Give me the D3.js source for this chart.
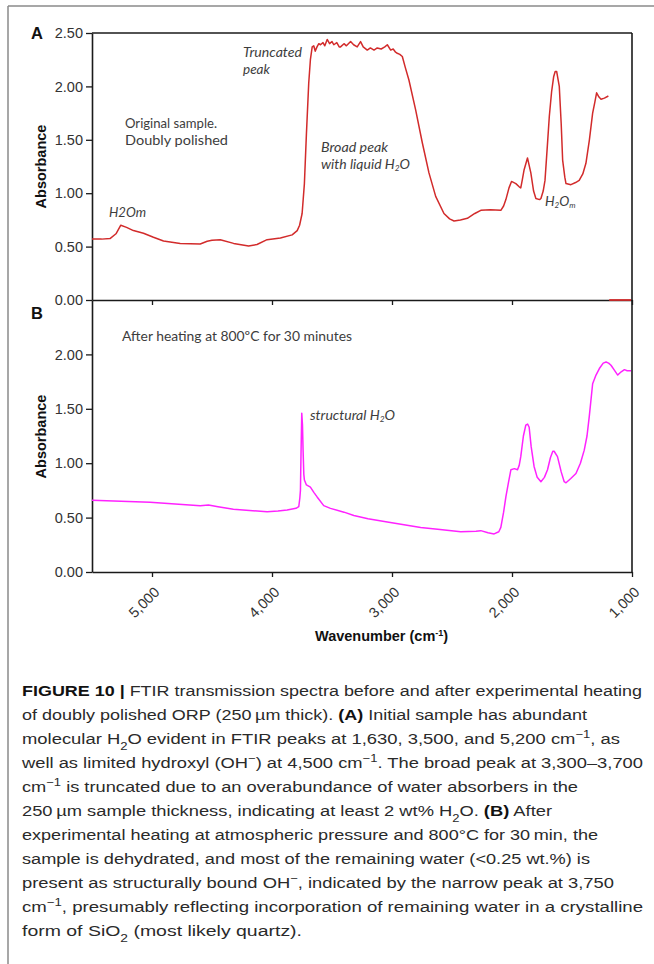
<!DOCTYPE html>
<html>
<head>
<meta charset="utf-8">
<script src="https://cdn.jsdelivr.net/npm/d3@7"></script>
<style>
  html, body { margin: 0; padding: 0; background: #fff; }
  svg { display: block; }
</style>
</head>
<body>
<svg id="chart" width="654" height="964"></svg>
<script>
// ---------- DATA ----------
const wavenumberTicks = [5000, 4000, 3000, 2000, 1000];
const absorbanceTicksA = [0, 0.5, 1.0, 1.5, 2.0, 2.5];
const absorbanceTicksB = [0, 0.5, 1.0, 1.5, 2.0];

// Panel A: original sample (red)
const waveA = [5500,5420,5350,5300,5260,5212,5155,5071,4988,4904,4765,4598,4540,4500,4431,4320,4195,4125,4041,3930,
  3832,3790,3770,3749,3730,3713,3694,3680,3665,3652,3640,3625,3610,3596,3575,3560,3540,3520,3500,3485,
  3460,3440,3429,3400,3380,3345,3320,3290,3262,3240,3206,3180,3150,3123,3090,3060,3039,3011,2990,2970,
  2956,2935,2914,2890,2859,2803,2747,2692,2636,2567,2520,2483,2430,2372,2310,2260,2180,2093,2070,2051,
  2025,2004,1968,1940,1927,1915,1899,1871,1843,1820,1801,1770,1759,1740,1725,1705,1689,1670,1653,1640,
  1628,1606,1590,1578,1560,1550,1509,1470,1440,1410,1384,1355,1328,1310,1295,1275,1258,1230,1197];
const absA = [0.57,0.57,0.575,0.62,0.70,0.68,0.65,0.625,0.587,0.553,0.53,0.525,0.55,0.56,0.565,0.53,0.506,0.52,0.565,0.58,
  0.61,0.65,0.70,0.81,1.09,1.56,2.03,2.25,2.37,2.38,2.33,2.37,2.40,2.39,2.41,2.38,2.44,2.40,2.42,2.39,
  2.41,2.37,2.37,2.40,2.38,2.42,2.39,2.37,2.42,2.37,2.34,2.36,2.34,2.36,2.35,2.37,2.39,2.34,2.35,2.32,
  2.31,2.30,2.28,2.18,2.06,1.78,1.47,1.19,0.97,0.81,0.76,0.74,0.75,0.765,0.81,0.84,0.845,0.84,0.88,0.94,
  1.05,1.11,1.09,1.06,1.05,1.12,1.22,1.33,1.19,1.02,0.95,0.94,0.95,1.02,1.12,1.45,1.72,1.95,2.09,2.14,
  2.14,2.00,1.65,1.31,1.15,1.09,1.08,1.10,1.12,1.18,1.28,1.50,1.75,1.85,1.94,1.90,1.88,1.89,1.91];
// Panel A: short segment lying on the zero line at the low-wavenumber end
const waveATail = [1190, 1008];
const absATail = [0, 0];

// Panel B: after heating at 800 °C (magenta)
const waveB = [5500,5016,4598,4529,4450,4322,4041,3950,3874,3800,3777,3768,3763,3758,3752,3746,3741,3735,3730,3713,
  3680,3650,3624,3569,3513,3400,3318,3200,3039,2900,2761,2600,2427,2300,2260,2200,2149,2110,2093,2070,
  2051,2030,2009,1980,1954,1940,1927,1905,1885,1870,1857,1840,1816,1790,1759,1730,1704,1680,1660,1649,
  1621,1590,1565,1550,1510,1467,1430,1398,1375,1356,1328,1300,1272,1240,1216,1195,1175,1150,1119,1090,
  1063,1040,1008];
const absB = [0.66,0.64,0.61,0.615,0.60,0.577,0.553,0.56,0.57,0.585,0.60,0.68,0.75,1.10,1.46,1.35,1.12,0.90,0.845,0.80,
  0.78,0.73,0.69,0.61,0.585,0.55,0.52,0.49,0.46,0.435,0.41,0.39,0.37,0.375,0.38,0.36,0.35,0.37,0.41,0.55,
  0.69,0.82,0.94,0.95,0.94,0.98,1.06,1.25,1.35,1.36,1.33,1.15,0.97,0.87,0.83,0.87,0.94,1.05,1.11,1.11,
  1.06,0.92,0.83,0.82,0.86,0.905,1.00,1.12,1.25,1.43,1.73,1.81,1.87,1.92,1.93,1.92,1.90,1.86,1.81,1.84,
  1.86,1.85,1.85];

// Caption lines: segments [text, style] ; style: "" normal, "b" bold, "sub", "sup"
const captionLines = [
  [["FIGURE 10 |","b"],[" FTIR transmission spectra before and after experimental heating",""]],
  [["of doubly polished ORP (250\u2009\u00b5m thick). ",""],["(A)","b"],[" Initial sample has abundant",""]],
  [["molecular H",""],["2","sub"],["O evident in FTIR peaks at 1,630, 3,500, and 5,200 cm",""],["\u22121","sup"],[", as",""]],
  [["well as limited hydroxyl (OH",""],["\u2212","sup"],[") at 4,500 cm",""],["\u22121","sup"],[". The broad peak at 3,300\u20133,700",""]],
  [["cm",""],["\u22121","sup"],[" is truncated due to an overabundance of water absorbers in the",""]],
  [["250\u2009\u00b5m sample thickness, indicating at least 2 wt% H",""],["2","sub"],["O. ",""],["(B)","b"],[" After",""]],
  [["experimental heating at atmospheric pressure and 800\u00b0C for 30\u2009min, the",""]],
  [["sample is dehydrated, and most of the remaining water (<0.25 wt.%) is",""]],
  [["present as structurally bound OH",""],["\u2212","sup"],[", indicated by the narrow peak at 3,750",""]],
  [["cm",""],["\u22121","sup"],[", presumably reflecting incorporation of remaining water in a crystalline",""]],
  [["form of SiO",""],["2","sub"],[" (most likely quartz).",""]]
];
const captionLineEnds = [642, 587, 620, 643, 578, 552, 598, 590, 614, 643, 302];

// ---------- CHART ----------
const svg = d3.select("#chart");
const L = 92, R = 632;
const x = d3.scaleLinear().domain([5500, 1000]).range([L, R]);
const yA = d3.scaleLinear().domain([0, 2.5]).range([300, 33]);
const yB = d3.scaleLinear().domain([0, 2.5]).range([572, 300]);

// outer frame (gray)
svg.append("line").attr("x1", 8).attr("y1", 6).attr("x2", 654).attr("y2", 6)
  .attr("stroke", "#8a8a8a").attr("stroke-width", 1.5);
svg.append("line").attr("x1", 8).attr("y1", 6).attr("x2", 8).attr("y2", 964)
  .attr("stroke", "#8a8a8a").attr("stroke-width", 1.5);

const axisColor = "#1a1a1a";
const labelColor = "#333";
const tickFont = "Liberation Sans, Arial, sans-serif";

function styleAxis(g) {
  g.selectAll("path.domain").attr("stroke", axisColor).attr("stroke-width", 1.6);
  g.selectAll(".tick line").attr("stroke", axisColor).attr("stroke-width", 1.3);
  g.selectAll(".tick text").attr("fill", labelColor)
    .style("font-family", tickFont).style("font-size", "14.5px");
}

// Panel frames (top/right borders)
svg.append("line").attr("x1", L).attr("x2", R).attr("y1", yA(2.5)).attr("y2", yA(2.5))
  .attr("stroke", axisColor).attr("stroke-width", 1.6);
svg.append("line").attr("x1", R).attr("x2", R).attr("y1", yA(2.5)).attr("y2", yB(0))
  .attr("stroke", axisColor).attr("stroke-width", 1.6);

// Panel A axes
const gAyl = svg.append("g").attr("transform", `translate(${L},0)`)
  .call(d3.axisLeft(yA).tickValues(absorbanceTicksA).tickFormat(d3.format(".2f"))
    .tickSize(6).tickSizeOuter(0).tickPadding(3));
styleAxis(gAyl);
const gAx = svg.append("g").attr("transform", `translate(0,${yA(0)})`)
  .call(d3.axisBottom(x).tickValues(wavenumberTicks).tickFormat("").tickSize(5).tickSizeOuter(0));
styleAxis(gAx);

// Panel B axes
const gByl = svg.append("g").attr("transform", `translate(${L},0)`)
  .call(d3.axisLeft(yB).tickValues(absorbanceTicksB).tickFormat(d3.format(".2f"))
    .tickSize(6).tickSizeOuter(0).tickPadding(3));
styleAxis(gByl);
const gBx = svg.append("g").attr("transform", `translate(0,${yB(0)})`)
  .call(d3.axisBottom(x).tickValues(wavenumberTicks).tickFormat(d3.format(","))
    .tickSize(5).tickSizeOuter(0));
styleAxis(gBx);
gBx.selectAll(".tick text")
  .attr("x", 0).attr("y", 0).attr("dy", 0)
  .attr("text-anchor", "end")
  .attr("transform", "translate(8,21) rotate(-45)");

// lines
const lineA = d3.line().x(d => x(d[0])).y(d => yA(d[1]));
const lineB = d3.line().x(d => x(d[0])).y(d => yB(d[1]));
svg.append("path").datum(d3.zip(waveA, absA)).attr("d", lineA)
  .attr("fill", "none").attr("stroke", "#d22b2b").attr("stroke-width", 1.5).attr("stroke-linejoin", "round");
svg.append("path").datum(d3.zip(waveATail, absATail)).attr("d", lineA)
  .attr("fill", "none").attr("stroke", "#d22b2b").attr("stroke-width", 1.8);
svg.append("path").datum(d3.zip(waveB, absB)).attr("d", lineB)
  .attr("fill", "none").attr("stroke", "#ff22ff").attr("stroke-width", 1.5).attr("stroke-linejoin", "round");

// panel letters
svg.append("text").attr("x", 31).attr("y", 38.5).text("A")
  .style("font-family", tickFont).style("font-weight", "bold").style("font-size", "16.5px").attr("fill", "#111");
svg.append("text").attr("x", 31).attr("y", 318.5).text("B")
  .style("font-family", tickFont).style("font-weight", "bold").style("font-size", "16.5px").attr("fill", "#111");

// y-axis titles
[[(yA(0) + yA(2.5)) / 2], [(yB(0) + yB(2.5)) / 2 + 0.5]].forEach(([cy]) => {
  svg.append("text").attr("transform", `translate(45.5,${cy}) rotate(-90)`)
    .attr("text-anchor", "middle").text("Absorbance")
    .style("font-family", tickFont).style("font-weight", "bold").style("font-size", "14.5px").attr("fill", "#111");
});

// x-axis title
const xt = svg.append("text").attr("x", 315).attr("y", 641)
  .style("font-family", tickFont).style("font-weight", "bold").style("font-size", "14.5px").attr("fill", "#111");
xt.append("tspan").text("Wavenumber (cm");
xt.append("tspan").text("-1").attr("baseline-shift", "super").style("font-size", "9px");
xt.append("tspan").text(")");

// annotations
const annFont = "Lato, 'Open Sans', sans-serif";
const annColor = "#3d3d3d";
function ann(xp, yp, parts, italic, size, len) {
  const t = svg.append("text").attr("x", xp).attr("y", yp)
    .style("font-family", annFont).style("font-size", (size || 13.5) + "px")
    .style("font-style", italic ? "italic" : "normal").attr("fill", annColor);
  if (len) t.attr("textLength", len).attr("lengthAdjust", "spacingAndGlyphs");
  parts.forEach(p => {
    const s = t.append("tspan").text(p[0]);
    if (p[1] === "sub") s.attr("baseline-shift", "-25%").style("font-size", "8px");
  });
}
ann(243, 57, [["Truncated"]], true, 13.5, 59);
ann(243, 74, [["peak"]], true, 13.5);
ann(125, 127.5, [["Original sample."]], false, 13.5, 92);
ann(125, 145, [["Doubly polished"]], false, 13.5, 103);
ann(109, 217, [["H2Om"]], true, 13.5, 37);
ann(321, 151.5, [["Broad peak"]], true, 13.5, 67);
ann(321, 169, [["with liquid H"], ["2", "sub"], ["O"]], true, 13.5, 89);
ann(545, 206, [["H"], ["2", "sub"], ["O"], ["m", "sub"]], true, 13.5);
ann(122, 341, [["After heating at 800\u00baC for 30 minutes"]], false, 13.5, 230);
ann(310, 420, [["structural H"], ["2", "sub"], ["O"]], true, 13.5, 85);

// caption
const capX = 22, capY0 = 696, capDY = 24;
const capFont = "'Liberation Sans', Arial, sans-serif";
captionLines.forEach((segs, i) => {
  const t = svg.append("text").attr("x", capX).attr("y", capY0 + i * capDY)
    .style("font-family", capFont).style("font-size", "15.5px").attr("fill", "#2a2a2a")
    .attr("textLength", captionLineEnds[i] - capX).attr("lengthAdjust", "spacingAndGlyphs");
  segs.forEach(([txt, st]) => {
    const s = t.append("tspan").text(txt);
    if (st === "b") s.style("font-weight", "bold").attr("fill", "#111");
    if (st === "sub") s.attr("baseline-shift", "sub").style("font-size", "11px");
    if (st === "sup") s.attr("baseline-shift", "super").style("font-size", "11px");
  });
});
</script>
</body>
</html>
